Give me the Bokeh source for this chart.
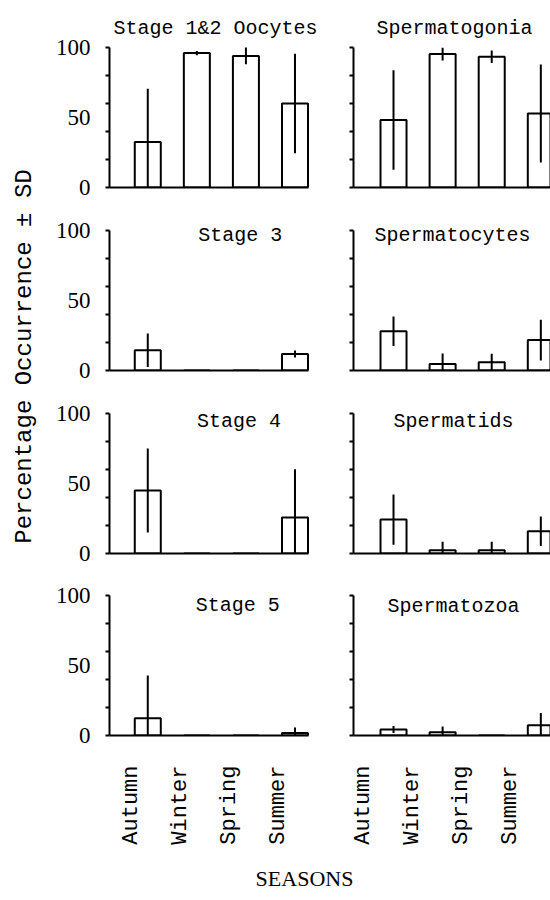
import math
from bokeh.plotting import figure
from bokeh.models import Range1d, FixedTicker, Label, ColumnDataSource, LinearAxis
from bokeh.layouts import row, column
from bokeh.embed import file_html
from bokeh.resources import INLINE

# ---------------- data ----------------
seasons = ["Autumn", "Winter", "Spring", "Summer"]
y_ticks = [0, 50, 100]
y_minor_ticks = [0, 20, 40, 60, 80, 100]

oocyte_titles = ["Stage 1&2 Oocytes", "Stage 3", "Stage 4", "Stage 5"]
sperm_titles = ["Spermatogonia", "Spermatocytes", "Spermatids", "Spermatozoa"]

stage12_mean = [32.5, 96.0, 94.0, 60.0]
stage12_sd = [38.0, 1.5, 6.0, 35.5]
stage3_mean = [14.5, 0.0, 0.0, 11.8]
stage3_sd = [12.0, 0.0, 0.0, 2.5]
stage4_mean = [45.0, 0.0, 0.0, 25.7]
stage4_sd = [30.0, 0.0, 0.0, 34.5]
stage5_mean = [12.4, 0.0, 0.0, 1.8]
stage5_sd = [30.5, 0.0, 0.0, 4.0]

spermatogonia_mean = [48.2, 95.3, 93.4, 52.9]
spermatogonia_sd = [35.5, 4.5, 4.5, 35.0]
spermatocytes_mean = [28.0, 4.7, 5.9, 21.7]
spermatocytes_sd = [10.5, 7.5, 6.0, 14.5]
spermatids_mean = [24.2, 2.4, 2.4, 15.9]
spermatids_sd = [18.0, 6.0, 6.0, 10.5]
spermatozoa_mean = [4.3, 2.4, 0.0, 7.3]
spermatozoa_sd = [2.5, 4.0, 0.0, 8.8]

oocyte_means = [stage12_mean, stage3_mean, stage4_mean, stage5_mean]
oocyte_sds = [stage12_sd, stage3_sd, stage4_sd, stage5_sd]
sperm_means = [spermatogonia_mean, spermatocytes_mean, spermatids_mean, spermatozoa_mean]
sperm_sds = [spermatogonia_sd, spermatocytes_sd, spermatids_sd, spermatozoa_sd]

# ---------------- layout / style ----------------
MONO = "Liberation Mono"
SERIF = "Liberation Serif"
PX_PER_UNIT = 1.4
STRIP_W = 42
TOTAL_H = 896
# (frame height, bottom border) for each row of panels
row_frames = [(187, 14), (169, 14), (169, 14), (168, 116)]

left_title_pos = [(2.378, 113.4), (2.887, 96.4), (2.857, 94.5), (2.836, 92.9)]
right_title_pos = [(2.242, 113.4), (2.200, 96.4), (2.222, 94.5), (2.222, 92.1)]

xs = list(range(1, len(seasons) + 1))


def make_panel(title, mean, sd, is_left, row_idx, tpos):
    last = row_idx == len(row_frames) - 1
    frame_h, mbb = row_frames[row_idx]
    y_end = frame_h / PX_PER_UNIT
    if is_left:
        mbl, frame_w, x0, px, shift = 67, 234, 0.22, 49.07, 0.33
    else:
        mbl, frame_w, x0, px, shift = 10, 197, 0.185, 49.1, 0.61
    x1 = x0 + frame_w / px
    xr = Range1d(x0, x1)
    p = figure(width=mbl + frame_w, height=frame_h + mbb,
               x_range=xr, y_range=Range1d(0, y_end),
               x_axis_location=None, y_axis_location=None,
               toolbar_location=None, output_backend="svg", title=None,
               min_border_left=mbl, min_border_right=0,
               min_border_top=0, min_border_bottom=mbb)
    p.outline_line_color = None
    p.grid.visible = False

    # y axis
    if is_left:
        yt = FixedTicker(ticks=y_ticks, minor_ticks=y_minor_ticks)
    else:
        yt = FixedTicker(ticks=[], minor_ticks=y_minor_ticks)
    ya = LinearAxis(ticker=yt, bounds=(0, 100))
    ya.axis_line_width = 2
    ya.axis_line_color = "black"
    ya.major_tick_out = 0
    ya.major_tick_in = 0
    ya.minor_tick_out = 4
    ya.minor_tick_in = 0
    ya.minor_tick_line_width = 2
    ya.minor_tick_line_color = "black"
    ya.major_label_text_font = SERIF
    ya.major_label_text_font_size = "23px"
    ya.major_label_text_color = "black"
    ya.major_label_standoff = 15 if is_left else 0
    p.add_layout(ya, "left")

    # x axis
    if last:
        p.extra_x_ranges = {"lab": Range1d(x0 + shift, x1 + shift)}
        xa = LinearAxis(x_range_name="lab", ticker=FixedTicker(ticks=xs),
                        bounds=(x0 + shift, 4.27 + shift),
                        major_label_overrides={i + 1: s for i, s in enumerate(seasons)})
        xa.major_label_orientation = math.pi / 2
        xa.major_label_standoff = 30
        xa.major_label_text_font = MONO
        xa.major_label_text_font_size = "22px"
        xa.major_label_text_color = "black"
    else:
        xa = LinearAxis(ticker=FixedTicker(ticks=[]), bounds=(x0, 4.27))
        xa.major_label_standoff = 0
    xa.axis_line_width = 2
    xa.axis_line_color = "black"
    xa.major_tick_out = 0
    xa.major_tick_in = 0
    xa.minor_tick_out = 0
    xa.minor_tick_in = 0
    p.add_layout(xa, "below")

    src = ColumnDataSource(dict(x=xs, top=mean))
    p.vbar(x="x", top="top", bottom=0, width=0.53, source=src,
           fill_color="white", line_color="black", line_width=2)

    ex, lo, hi = [], [], []
    for x, m, s in zip(xs, mean, sd):
        if s > 0:
            ex.append(x)
            lo.append(max(0.0, m - s))
            hi.append(m + s)
    esrc = ColumnDataSource(dict(x=ex, lo=lo, hi=hi))
    p.segment(x0="x", y0="lo", x1="x", y1="hi", source=esrc,
              line_color="black", line_width=2)

    p.add_layout(Label(x=tpos[0], y=tpos[1], text=title, text_font=MONO,
                       text_font_size="20px", text_align="center",
                       text_baseline="alphabetic", text_color="black"))
    return p


rows = []
for i in range(4):
    pl = make_panel(oocyte_titles[i], oocyte_means[i], oocyte_sds[i], True, i, left_title_pos[i])
    pr = make_panel(sperm_titles[i], sperm_means[i], sperm_sds[i], False, i, right_title_pos[i])
    rows.append(row(pl, pr))

rows_h = sum(fh + bb for fh, bb in row_frames)
bottom_h = TOTAL_H - rows_h
bottom_w = 550 - STRIP_W

bottom = figure(width=bottom_w, height=bottom_h, x_range=Range1d(0, bottom_w), y_range=Range1d(0, bottom_h),
                x_axis_location=None, y_axis_location=None, toolbar_location=None,
                output_backend="svg", title=None, min_border=0)
bottom.outline_line_color = None
bottom.grid.visible = False
bottom.add_layout(Label(x=304 - STRIP_W, y=bottom_h / 2 - 4, text="SEASONS", text_font=SERIF,
                        text_font_size="22px", text_align="center", text_baseline="middle",
                        text_color="black"))

strip = figure(width=STRIP_W, height=TOTAL_H, x_range=Range1d(0, STRIP_W), y_range=Range1d(0, TOTAL_H),
               x_axis_location=None, y_axis_location=None, toolbar_location=None,
               output_backend="svg", title=None, min_border=0)
strip.outline_line_color = None
strip.grid.visible = False
strip.add_layout(Label(x=24, y=TOTAL_H - 356, text="Percentage Occurrence ± SD", angle=math.pi / 2,
                       text_font=MONO, text_font_size="24px", text_align="center",
                       text_baseline="middle", text_color="black"))

layout = row(strip, column(*rows, bottom))

open("out.html", "w").write(file_html(layout, INLINE))
